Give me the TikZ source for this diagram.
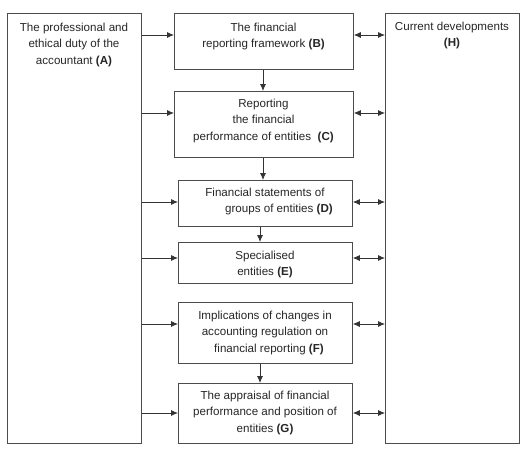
\documentclass[tikz,border=0pt]{standalone}
\usepackage{fontspec}
\setmainfont{Liberation Sans}
\usetikzlibrary{arrows.meta}
\begin{document}
\begin{tikzpicture}[x=1pt,y=-1pt,
  box/.style={draw=black!70, line width=0.8pt, rectangle, inner sep=0pt, anchor=north west},
  txt/.style={align=center, inner sep=0pt, anchor=north, text=black!85,
    font=\fontsize{11.6}{16.3}\selectfont},
  arr/.style={draw=black!80, line width=0.8pt, -{Latex[length=7pt,width=6pt]}},
  darr/.style={draw=black!80, line width=0.8pt, {Latex[length=7pt,width=6pt]}-{Latex[length=7pt,width=6pt]}}]
\useasboundingbox (0,0) rectangle (531,451);
% boxes
\node[box, minimum width=134pt, minimum height=430pt] (A) at (7,13) {};
\node[box, minimum width=179pt, minimum height=56pt] (B) at (174,13) {};
\node[box, minimum width=179pt, minimum height=66pt] (C) at (174,91) {};
\node[box, minimum width=174pt, minimum height=46pt] (D) at (178,180) {};
\node[box, minimum width=174pt, minimum height=41pt] (E) at (178,242) {};
\node[box, minimum width=174pt, minimum height=61pt] (F) at (178,302) {};
\node[box, minimum width=174pt, minimum height=60pt] (G) at (178,383) {};
\node[box, minimum width=134pt, minimum height=430pt] (H) at (385,13) {};
% texts
\node[txt] (At) at (74,23) {The professional and\\ethical duty of the\\accountant \textbf{(A)}};
\node[txt] (Bt) at (263.5,23) {The financial\\reporting framework \textbf{(B)}};
\node[txt] (Ct) at (263.5,99) {Reporting\\the financial\\performance of entities\ \ \textbf{(C)}};
\node[txt] (Dt) at (265,188) {Financial statements of\\\hspace*{28pt}groups of entities \textbf{(D)}};
\node[txt] (Et) at (265,251) {Specialised\\entities \textbf{(E)}};
\node[txt] (Ft) at (265,311) {Implications of changes in\\accounting regulation on\hspace*{28pt}\\\hspace*{8pt}financial reporting \textbf{(F)}};
\node[txt] (Gt) at (265,391) {The appraisal of financial\\performance and position of\\entities \textbf{(G)}};
\node[txt] (Ht) at (452,22) {Current developments\\\textbf{(H)}};
% levels
\coordinate (yb) at (0,35);
\coordinate (yc) at (0,113);
\coordinate (yd) at (0,202);
\coordinate (ye) at (0,258);
\coordinate (yf) at (0,324);
\coordinate (yg) at (0,413);
\coordinate (xv) at (263,0);
\coordinate (xw) at (260,0);
% A to boxes
\foreach \b/\y in {B/yb,C/yc,D/yd,E/ye,F/yf,G/yg}{
  \draw[arr] (A.east |- \y) -- (\b.west |- \y);
  \draw[darr] (\b.east |- \y) -- (H.west |- \y);
}
% vertical flow
\draw[arr] (B.south -| xv) -- (C.north -| xv);
\draw[arr] (C.south -| xv) -- (D.north -| xv);
\draw[arr] (D.south -| xw) -- (E.north -| xw);
\draw[arr] (F.south -| xw) -- (G.north -| xw);
\end{tikzpicture}
\end{document}
